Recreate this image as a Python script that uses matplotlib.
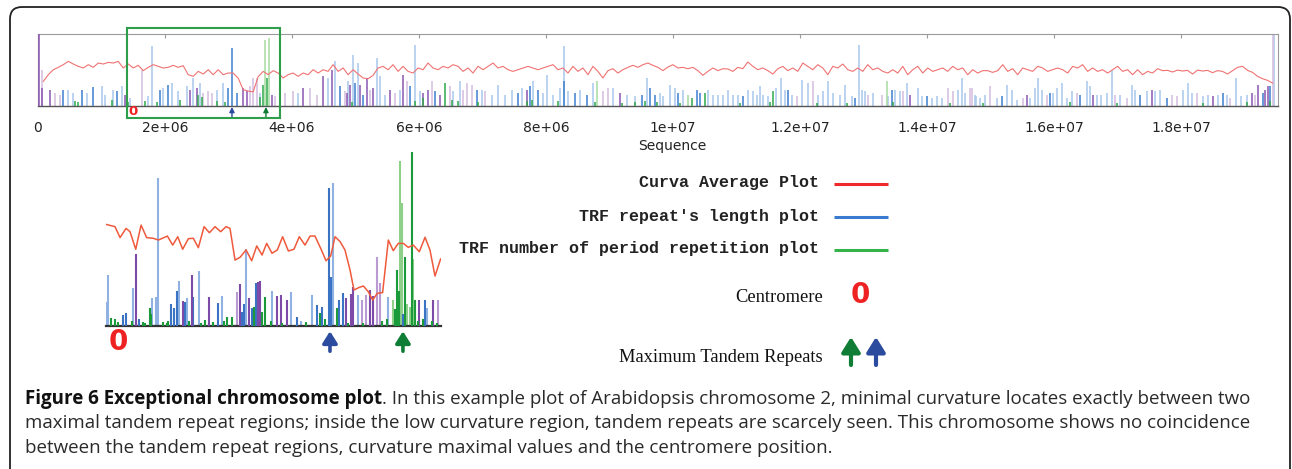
import matplotlib
matplotlib.use('Agg')
import matplotlib.pyplot as plt
import matplotlib.transforms as mtransforms
from matplotlib import font_manager
from matplotlib.patches import FancyBboxPatch, Rectangle
import numpy as np

# ------------------------------------------------------------------ data
seq_ticks_mb = [0, 2, 4, 6, 8, 10, 12, 14, 16, 18]
seq_tick_labels = ['0', '2e+06', '4e+06', '6e+06', '8e+06', '1e+07',
                   '1.2e+07', '1.4e+07', '1.6e+07', '1.8e+07']
chrom_len_mb = 19.53
centromere_mb = 1.50
max_repeat_blue_mb = 3.055
max_repeat_green_mb = 3.59
zoom_window_mb = (1.40, 3.81)
inset_range_mb = (1.413, 3.869)

# curvature average, sampled every curve_step_mb from curve_start_mb
curve_start_mb = 0.0835
curve_step_mb = 0.0787
curve_values = [
    33.5, 42.8, 49.7, 53.0, 56.7, 61.3, 57.6, 54.4, 52.1, 56.7,
    53.0, 59.0, 57.6, 59.9, 59.0, 61.3, 52.1, 57.6, 52.1, 55.8,
    48.4, 53.0, 56.7, 54.4, 52.1, 53.0, 55.8, 53.0, 55.3, 42.8,
    40.5, 47.4, 43.7, 49.7, 42.8, 49.7, 42.8, 45.1, 45.0, 38.0,
    22.0, 20.0, 19.0, 40.0, 47.4, 42.8, 48.4, 45.1, 38.2, 42.8,
    45.1, 40.5, 45.1, 42.8, 49.7, 45.1, 49.7, 47.4, 56.7, 47.4,
    52.1, 42.8,
    49.7, 43.7, 38.2, 37.2, 41.9, 52.1, 54.4, 49.7, 56.7, 47.4,
    54.4, 47.4, 45.1, 52.1, 49.7, 59.0, 52.1, 49.7, 54.4, 52.1,
    56.7, 54.4, 47.4, 52.1, 45.1, 54.4, 49.7, 54.4, 59.0, 52.1,
    54.4, 49.7, 47.4, 49.7, 52.1, 54.4, 52.1, 49.7, 52.1, 54.4,
    56.7, 49.7, 52.1, 45.1, 54.4, 47.4, 52.1, 42.8, 54.4, 47.4,
    38.2, 48.4, 51.1, 45.1, 49.7, 53.0, 55.8, 53.0, 56.7, 59.0,
    55.8, 53.0, 48.4,
    53.4, 56.7, 52.1, 53.0, 51.1, 53.0, 48.4, 41.9, 47.4, 52.1,
    48.4, 51.1, 50.7, 47.4, 53.0, 51.1, 60.4, 54.4, 49.7, 52.1,
    48.4, 43.7, 51.1, 54.4, 48.4, 52.1, 47.4, 59.0, 54.4, 49.7,
    56.7, 52.1, 42.8, 54.4, 52.1, 57.6, 49.7, 47.4, 52.1, 47.4,
    56.7, 49.7, 52.1, 47.4, 45.1, 49.7, 45.1, 54.4, 42.8, 49.7,
    54.4, 45.1, 52.1, 47.4, 49.7, 52.1, 47.4, 54.4, 49.7, 52.1,
    42.8, 49.7, 45.1,
    48.4, 48.4, 46.0, 48.4, 56.7, 47.4, 51.1, 42.8, 52.1, 49.7,
    47.4, 54.4, 52.1, 47.4, 49.7, 52.1, 49.7, 45.1, 54.4, 52.1,
    56.7, 47.4, 52.1, 47.4, 49.7, 45.1, 49.7, 54.4, 47.4, 49.7,
    42.8, 49.7, 42.8, 47.4, 45.1, 51.1, 48.4, 48.8, 46.5, 49.2,
    47.9, 48.8, 43.7, 49.2, 47.9, 48.8, 45.6, 48.4, 47.4, 43.7,
    48.4, 53.0, 54.4, 48.8, 46.0, 40.5, 37.2, 34.9, 31.2,
]

# TRF repeat length (blue), light and dark shades
blue_light_mb = [0.478, 0.556, 0.766, 1.003, 1.055, 1.186, 1.318, 1.449, 1.738, 1.790, 1.974, 2.105, 2.210, 2.341, 2.446, 2.551, 2.814, 2.919, 3.496, 4.100, 4.572, 4.677, 4.887,
                 4.966, 5.045, 5.334, 5.386, 5.465, 5.701, 5.937, 6.016, 6.541, 6.646, 6.987, 7.145, 7.250, 7.355, 7.460, 7.617, 7.801, 7.958, 8.011, 8.116, 8.221, 8.284, 8.352, 8.536, 8.746, 9.061, 9.271, 9.402, 9.586, 9.796,
                 9.847, 9.952, 10.031, 10.162, 10.556, 10.635, 10.714, 10.792, 10.871, 10.950, 11.029, 11.186, 11.265, 11.317, 11.370, 11.422, 11.501, 11.622, 11.695, 11.764, 11.868, 12.026, 12.131, 12.288, 12.367, 12.446, 12.525, 12.630, 12.708, 12.813, 12.934, 12.971, 13.023, 13.155, 13.391, 13.496, 13.575, 13.680, 13.863, 13.916, 14.073, 14.152, 14.231, 14.493, 14.546, 14.598, 14.756,
                 14.780, 14.834, 14.913, 15.097, 15.254, 15.333, 15.412, 15.622, 15.701, 15.753, 15.806, 15.989, 16.042, 16.121, 16.199, 16.278, 16.514, 16.567, 16.672, 16.750, 16.829, 16.908, 17.039, 17.223, 17.275, 17.459, 17.590, 17.669, 18.037, 18.115, 18.168, 18.352, 18.430, 18.588, 18.719, 18.876, 18.955, 19.034, 19.470]
blue_light_h = [22.0, 17.3, 17.3, 26.6, 15.0, 22.0, 26.6, 10.4, 12.7, 82.1, 24.3, 31.2, 19.6, 26.6, 38.2, 31.2, 22.0, 31.2, 17.3, 17.3, 38.2, 61.3, 33.5,
                70.6, 59.0, 65.9, 40.5, 15.0, 22.0, 84.5, 19.6, 19.6, 33.5, 22.0, 15.0, 28.9, 15.0, 22.0, 24.3, 33.5, 17.3, 42.8, 15.0, 24.3, 82.1, 19.6, 22.0, 31.2, 24.3, 15.0, 12.7, 38.2, 17.3,
                12.7, 28.9, 24.3, 22.0, 22.0, 15.0, 15.0, 15.0, 22.0, 15.0, 15.0, 22.0, 19.6, 15.0, 26.6, 15.0, 12.7, 24.3, 38.2, 22.0, 15.0, 35.8, 31.2, 15.0, 19.6, 33.5, 17.3, 15.0, 28.9, 12.7, 84.5, 22.0, 19.6, 17.3, 12.7, 22.0, 19.6, 31.2, 24.3, 12.7, 10.4, 12.7, 10.4, 22.0, 38.2, 17.3, 15.0,
                12.7, 10.4, 15.0, 10.4, 28.9, 22.0, 8.1, 10.4, 24.3, 38.2, 22.0, 17.3, 24.3, 31.2, 10.4, 19.6, 33.5, 26.6, 15.0, 15.0, 17.3, 49.7, 15.0, 28.9, 22.0, 19.6, 19.6, 22.0, 22.0, 31.2, 17.3, 12.7, 15.0, 15.0, 15.0, 38.2, 12.7, 15.0, 100.0]
blue_dark_mb = [0.399, 0.688, 0.871, 1.239, 1.921, 2.053, 2.997, 3.060, 3.129, 4.756, 4.992, 5.124, 5.859, 6.252, 6.908, 7.565, 7.748, 7.880, 8.284, 8.457, 8.641, 9.507, 9.638, 9.717, 10.084, 10.372, 10.425, 11.107, 11.816, 12.866, 13.443, 13.994, 15.176, 15.937, 16.409, 17.354, 17.774, 18.667, 19.296, 19.401]
blue_dark_h = [22.0, 22.0, 25.2, 19.6, 22.0, 28.9, 24.3, 79.8, 17.3, 26.6, 31.2, 15.0, 26.6, 19.6, 22.0, 17.3, 26.6, 22.0, 33.5, 17.3, 15.0, 15.0, 24.3, 15.0, 17.3, 22.0, 17.3, 12.7, 22.0, 10.4, 22.0, 12.7, 12.7, 17.3, 15.0, 15.0, 10.4, 17.3, 17.3, 26.6]

# purple marks, light and dark shades
purple_light_mb = [0.058, 0.268, 0.346, 1.633, 2.604, 2.682, 2.735, 3.339, 3.391, 3.444, 3.732, 3.890, 4.021, 4.283, 4.388, 4.835, 5.229, 5.622, 5.806, 6.200, 6.489, 6.699, 6.751, 6.830, 7.040, 8.903, 8.982, 11.947, 12.210, 13.076, 13.286, 13.627, 14.336, 14.414, 14.677, 14.703, 14.992, 15.517, 15.884, 16.357, 16.960, 17.144, 17.853, 17.932, 18.247, 18.771, 19.165, 19.454]
purple_light_h = [49.7, 17.3, 15.0, 49.7, 17.3, 19.6, 17.3, 26.6, 38.2, 38.2, 12.7, 17.3, 19.6, 24.3, 15.0, 19.6, 22.0, 17.3, 33.5, 33.5, 26.6, 22.0, 31.2, 28.9, 19.6, 19.6, 24.3, 12.7, 33.5, 15.0, 15.0, 19.6, 24.3, 19.6, 24.3, 24.3, 26.6, 10.4, 15.0, 17.3, 15.0, 10.4, 15.0, 12.7, 17.3, 10.4, 15.0, 98.3]
purple_dark_mb = [0.010, 0.070, 0.189, 1.370, 2.394, 2.499, 3.234, 3.286, 3.680, 4.178, 4.493, 4.625, 4.861, 4.914, 5.071, 5.176, 5.281, 5.544, 5.754, 6.069, 6.147, 6.331, 7.696, 9.166, 13.732, 15.569, 16.619, 17.538, 18.509, 19.113, 19.218, 19.323, 19.375]
purple_dark_h = [100.0, 24.3, 22.0, 15.0, 22.0, 24.3, 24.3, 19.6, 15.0, 24.3, 40.5, 49.7, 17.3, 28.9, 28.9, 38.2, 24.3, 22.0, 42.8, 17.3, 22.0, 15.0, 22.0, 17.3, 15.0, 15.0, 15.0, 22.0, 12.7, 17.3, 28.9, 22.0, 26.6]

# TRF number of period repetitions (green)
green_light_mb = [3.575, 3.643, 8.798, 10.241, 13.365]
green_light_h = [91.4, 93.7, 33.5, 15.0, 33.5]
green_dark_mb = [0.583, 0.635, 1.160, 1.423, 1.685, 1.869, 2.236, 2.525, 2.577, 2.814, 2.945, 3.496, 3.549, 3.612,
                 4.940, 5.937, 6.069, 6.410, 6.515, 6.620, 6.934, 7.696, 7.775, 8.195, 8.772, 9.192, 9.402, 9.560, 9.744,
                 10.110, 10.294, 10.504, 11.055, 11.527, 11.580, 12.262, 12.735, 13.470, 14.362,
                 14.887, 16.252, 16.987, 18.352, 19.034, 19.401]
green_dark_h = [6, 5, 8, 5, 6, 5, 7, 15, 12, 6, 5, 12, 28.9, 38.2,
                5, 6, 10, 31.2, 7, 6, 5, 6, 8, 6, 5, 4, 5, 6, 5,
                4, 10.4, 17.3, 4, 5, 19.6, 4, 4, 5, 4,
                4, 5, 4, 4, 5, 6]

# ---- zoomed inset (1.41 - 3.87 Mb)
inset_curve_mb = [1.413, 1.479, 1.516, 1.560, 1.589, 1.631, 1.670, 1.711, 1.760, 1.797, 1.863, 1.902, 1.939, 1.975, 2.017, 2.053, 2.090, 2.132, 2.171, 2.212, 2.254, 2.293, 2.322, 2.359, 2.396, 2.440, 2.481, 2.518, 2.557, 2.591, 2.630, 2.669, 2.708, 2.750, 2.791, 2.830, 2.872, 2.909, 2.945, 2.987, 3.026, 3.060, 3.092, 3.129, 3.165, 3.202, 3.231, 3.270, 3.300, 3.336, 3.368, 3.402, 3.441, 3.483, 3.519, 3.556, 3.593, 3.629, 3.666, 3.710, 3.752, 3.788, 3.825, 3.866]
inset_curve_val = [58.4, 57.1, 50.8, 56.1, 54.2, 44.1, 58.0, 50.8, 50.4, 49.4, 51.7, 46.5, 51.3, 44.1, 50.2, 50.4, 45.0, 57.1, 53.6, 57.1, 54.2, 57.1, 56.1, 37.9, 39.5, 43.7, 37.5, 46.0, 40.8, 47.5, 41.8, 43.7, 51.3, 43.1, 44.1, 51.3, 46.5, 51.7, 51.7, 44.6, 37.5, 40.2, 51.3, 48.5, 43.7, 32.2, 20.7, 22.2, 23.0, 19.7, 14.9, 18.8, 19.2, 49.4, 43.3, 47.5, 47.5, 45.2, 46.5, 42.7, 51.0, 43.7, 28.7, 38.5]

in_blue_light_mb = [1.418, 1.430, 1.609, 1.753, 1.777, 1.797, 1.951, 2.004, 2.095, 2.266, 2.437, 2.628, 2.767, 2.840, 2.921, 3.075, 3.258, 3.478, 3.769]
in_blue_light_h = [14.0, 29.3, 22.0, 15.9, 16.9, 84.9, 26.1, 16.3, 31.6, 17.2, 44.1, 20.1, 19.3, 3.0, 17.8, 82.4, 17.8, 16.5, 10.2]
in_blue_dark_mb = [1.540, 1.560, 1.657, 1.890, 1.914, 1.931, 1.992, 2.048, 2.237, 2.408, 2.425, 2.486, 2.513, 2.811, 2.957, 2.994, 3.050, 3.060, 3.124, 3.153, 3.563, 3.590, 3.752]
in_blue_dark_h = [6.3, 7.7, 3.8, 12.6, 10.2, 20.3, 14.0, 16.9, 13.0, 8.2, 12.4, 10.2, 24.5, 5.4, 12.1, 11.1, 79.1, 28.4, 14.9, 18.8, 8.0, 7.0, 14.9]
in_purple_light_mb = [2.371, 3.287, 3.319, 3.397, 3.422, 3.849]
in_purple_light_h = [19.3, 14.9, 17.8, 39.8, 24.5, 14.9]
in_purple_dark_mb = [1.631, 1.980, 2.041, 2.171, 2.395, 2.464, 2.530, 2.542, 2.664, 2.694, 2.737, 3.172, 3.207, 3.226, 3.348, 3.368, 3.710, 3.813]
in_purple_dark_h = [41.2, 14.6, 29.3, 16.5, 24.0, 15.9, 25.5, 26.1, 17.2, 17.8, 14.9, 15.9, 18.4, 22.6, 20.7, 17.2, 14.9, 14.9]
in_green_light_mb = [3.515, 3.568, 3.581, 3.622, 3.642, 3.661]
in_green_light_h = [14.9, 95.0, 70.9, 12.4, 11.1, 38.3]
in_green_dark_mb = [1.450, 1.479, 1.503, 1.600, 1.687, 1.700, 1.736, 1.743, 1.830, 1.858, 1.870, 2.020, 2.110, 2.139, 2.200, 2.280, 2.298, 2.339, 2.498, 2.554, 2.579, 2.620, 2.700, 2.880, 2.982, 3.020, 3.104, 3.190, 3.300, 3.440, 3.470, 3.530, 3.549, 3.560, 3.605, 3.654, 3.678, 3.700, 3.740, 3.800, 3.840]
in_green_dark_h = [4.4, 3.8, 2.5, 3.0, 2.5, 2.0, 10.2, 6.9, 2.5, 1.9, 3.0, 3.0, 2.0, 3.4, 2.5, 3.0, 5.4, 5.4, 10.7, 8.2, 16.5, 3.0, 2.0, 2.5, 7.3, 4.0, 10.2, 2.0, 2.0, 3.0, 4.0, 10.0, 32.2, 20.0, 39.8, 110.0, 14.9, 3.0, 4.0, 3.0, 2.0]

legend_labels = ['Curva Average Plot', "TRF repeat's length plot", 'TRF number of period repetition plot']
caption_bold = 'Figure 6 Exceptional chromosome plot'
caption_lines = [
    '. In this example plot of Arabidopsis chromosome 2, minimal curvature locates exactly between two',
    'maximal tandem repeat regions; inside the low curvature region, tandem repeats are scarcely seen. This chromosome shows no coincidence',
    'between the tandem repeat regions, curvature maximal values and the centromere position.',
]

# ------------------------------------------------------------------ style
C_BLUE_L, C_BLUE_D = '#a9c8ec', '#3f7ecf'
C_PUR_L, C_PUR_D = '#d5bde0', '#8a56b2'
C_GRN_L, C_GRN_D = '#a6dc9f', '#2fa84a'
C_RED = '#f07272'
ARROW_BLUE, ARROW_GREEN = '#2b4c9e', '#0f7d35'


def pick_font(names):
    for n in names:
        try:
            font_manager.findfont(font_manager.FontProperties(family=n), fallback_to_default=False)
            return n
        except Exception:
            continue
    return 'DejaVu Sans'


CAP_FONT = pick_font(['Liberation Sans Narrow', 'Open Sans', 'DejaVu Sans'])
MONO_FONT = pick_font(['Liberation Mono', 'DejaVu Sans Mono'])
SERIF_FONT = pick_font(['Liberation Serif', 'DejaVu Serif'])

W, H = 1292, 469
fig = plt.figure(figsize=(W / 100, H / 100), dpi=100)
fig.patch.set_facecolor('white')


def px_axes(x0, y0, x1, y1):
    return fig.add_axes([x0 / W, 1 - y1 / H, (x1 - x0) / W, (y1 - y0) / H])


# ------------------------------------------------------------------ top plot
ax = px_axes(38, 33.5, 1278, 105.5)
ax.set_xlim(0, chrom_len_mb)
ax.set_ylim(0, 100)
lw_top = 1.1
ax.vlines(blue_light_mb, 0, blue_light_h, colors=C_BLUE_L, lw=lw_top, zorder=2)
ax.vlines(purple_light_mb, 0, purple_light_h, colors=C_PUR_L, lw=lw_top, zorder=2)
ax.vlines(green_light_mb, 0, green_light_h, colors=C_GRN_L, lw=lw_top, zorder=2)
ax.vlines(blue_dark_mb, 0, blue_dark_h, colors=C_BLUE_D, lw=lw_top, zorder=3)
ax.vlines(purple_dark_mb, 0, purple_dark_h, colors=C_PUR_D, lw=lw_top, zorder=3)
ax.vlines(green_dark_mb, 0, green_dark_h, colors=C_GRN_D, lw=lw_top, zorder=3)
curve_x = curve_start_mb + curve_step_mb * np.arange(len(curve_values))
ax.plot(curve_x, curve_values, color=C_RED, lw=0.8, zorder=4)

for s in ['top', 'left', 'right']:
    ax.spines[s].set_color('#9a9a9a')
    ax.spines[s].set_linewidth(0.8)
ax.spines['bottom'].set_color('#555555')
ax.spines['bottom'].set_linewidth(1.0)
ax.set_yticks([])
ax.set_xticks(seq_ticks_mb)
ax.set_xticklabels(seq_tick_labels, fontsize=10, color='#222222', family='DejaVu Sans')
ax.tick_params(axis='x', bottom=False, top=True, direction='in', length=3,
               color='#9a9a9a', pad=11)

trans_top = mtransforms.blended_transform_factory(ax.transData, ax.transAxes)
ax.add_patch(Rectangle((zoom_window_mb[0], -0.174), zoom_window_mb[1] - zoom_window_mb[0], 1.25,
                       transform=trans_top, fill=False, ec='#2e9e4a', lw=1.5, clip_on=False, zorder=6))
ax.text(centromere_mb, -0.085, '0', transform=trans_top, color='#ee2222', fontsize=9.5,
        fontweight='bold', ha='center', va='center', clip_on=False)
for xm, c in [(max_repeat_blue_mb, ARROW_BLUE), (max_repeat_green_mb, ARROW_GREEN)]:
    ax.annotate('', xy=(xm, -0.02), xytext=(xm, -0.16), xycoords=trans_top, textcoords=trans_top,
                arrowprops=dict(arrowstyle='-|>,head_length=0.3,head_width=0.15', lw=1.0, color=c,
                                shrinkA=0, shrinkB=0, mutation_scale=10), annotation_clip=False)

# ------------------------------------------------------------------ inset
ai = px_axes(106, 152, 441, 326)
ai.set_xlim(*inset_range_mb)
ai.set_ylim(0, 100)
lw_in = 1.5
ai.vlines(in_blue_light_mb, 0, in_blue_light_h, colors='#8fb2e2', lw=lw_in, zorder=2)
ai.vlines(in_purple_light_mb, 0, in_purple_light_h, colors='#b99ad2', lw=lw_in, zorder=2)
ai.vlines(in_green_light_mb, 0, in_green_light_h, colors='#8ed08a', lw=lw_in, zorder=2)
ai.vlines(in_blue_dark_mb, 0, in_blue_dark_h, colors='#3a72c4', lw=lw_in, zorder=3)
ai.vlines(in_purple_dark_mb, 0, in_purple_dark_h, colors='#7e4aa8', lw=lw_in, zorder=3)
ai.vlines(in_green_dark_mb, 0, in_green_dark_h, colors='#1a9a3a', lw=lw_in, zorder=3)
ai.plot(inset_curve_mb, inset_curve_val, color='#ef5a3c', lw=1.1, zorder=4)
for s in ['top', 'left', 'right']:
    ai.spines[s].set_visible(False)
ai.spines['bottom'].set_color('#333333')
ai.spines['bottom'].set_linewidth(1.6)
ai.set_xticks([])
ai.set_yticks([])
ai.patch.set_alpha(0)

trans_in = mtransforms.blended_transform_factory(ai.transData, ai.transAxes)
ai.text(centromere_mb, -0.092, '0', transform=trans_in, color='#ee2222', fontsize=20,
        fontweight='bold', ha='center', va='center', clip_on=False)
for xm, c in [(max_repeat_blue_mb, ARROW_BLUE), (max_repeat_green_mb, ARROW_GREEN)]:
    ai.annotate('', xy=(xm, -0.03), xytext=(xm, -0.145), xycoords=trans_in, textcoords=trans_in,
                arrowprops=dict(arrowstyle='-|>,head_length=0.35,head_width=0.22', lw=2.6, color=c,
                                shrinkA=0, shrinkB=0, mutation_scale=20), annotation_clip=False)

# ------------------------------------------------------------------ overlay
ov = fig.add_axes([0, 0, 1, 1], zorder=10)
ov.set_xlim(0, W)
ov.set_ylim(H, 0)
ov.axis('off')
ov.patch.set_alpha(0)

ov.add_patch(FancyBboxPatch((10, 7), 1280, 490, boxstyle='round,pad=0,rounding_size=12',
                            fill=False, ec='#222222', lw=1.3, clip_on=False))

ov.text(672, 146, 'Sequence', fontsize=10, color='#222222', ha='center', va='center',
        family='DejaVu Sans')

legend_y = [183, 216, 249]
legend_colors = ['#f02a2a', '#3a7bd0', '#34b34a']
for lab, yy, c in zip(legend_labels, legend_y, legend_colors):
    ov.text(819, yy, lab, fontsize=12, family=MONO_FONT, fontweight='bold', color='#222222',
            ha='right', va='center')
    ov.plot([834, 888], [yy + 1, yy + 1], color=c, lw=2.2, solid_capstyle='butt')

ov.text(823, 297, 'Centromere', fontsize=13.3, family=SERIF_FONT, color='#111111',
        ha='right', va='center')
ov.text(860, 295, '0', fontsize=20, fontweight='bold', color='#ee2222', ha='center', va='center')
ov.text(823, 357, 'Maximum Tandem Repeats', fontsize=13.3, family=SERIF_FONT, color='#111111',
        ha='right', va='center')
for xx, c in [(851, ARROW_GREEN), (876, ARROW_BLUE)]:
    ov.annotate('', xy=(xx, 337), xytext=(xx, 365), xycoords='data', textcoords='data',
                arrowprops=dict(arrowstyle='-|>,head_length=0.45,head_width=0.28', lw=3.0, color=c,
                                shrinkA=0, shrinkB=0, mutation_scale=20))

# caption: size chosen so lines 1 and 2 end near where they end in the reference
cap_x0 = 25
target_w1, target_w2 = 1278 - 25, 1216 - 25
cap_base = [404, 428.5, 453]
fs = 13
t_bold = ov.text(cap_x0, cap_base[0], caption_bold, fontsize=fs, fontweight='bold', family=CAP_FONT,
                 color='#111111', ha='left', va='baseline')
t_rest = ov.text(0, cap_base[0], caption_lines[0], fontsize=fs, family=CAP_FONT, color='#2a2a2a',
                 ha='left', va='baseline')
t_l2 = ov.text(cap_x0, cap_base[1], caption_lines[1], fontsize=fs, family=CAP_FONT, color='#2a2a2a',
               ha='left', va='baseline')
t_l3 = ov.text(cap_x0, cap_base[2], caption_lines[2], fontsize=fs, family=CAP_FONT, color='#2a2a2a',
               ha='left', va='baseline')
fig.canvas.draw()
r = fig.canvas.get_renderer()
w1 = t_bold.get_window_extent(r).width + t_rest.get_window_extent(r).width
w2 = t_l2.get_window_extent(r).width
s = (w1 * target_w1 + w2 * target_w2) / (w1 ** 2 + w2 ** 2)
fs = fs * s
for t in (t_bold, t_rest, t_l2, t_l3):
    t.set_fontsize(fs)
fig.canvas.draw()
t_rest.set_x(t_bold.get_window_extent(r).x1)

fig.savefig('out.png', dpi=100, facecolor='white')
